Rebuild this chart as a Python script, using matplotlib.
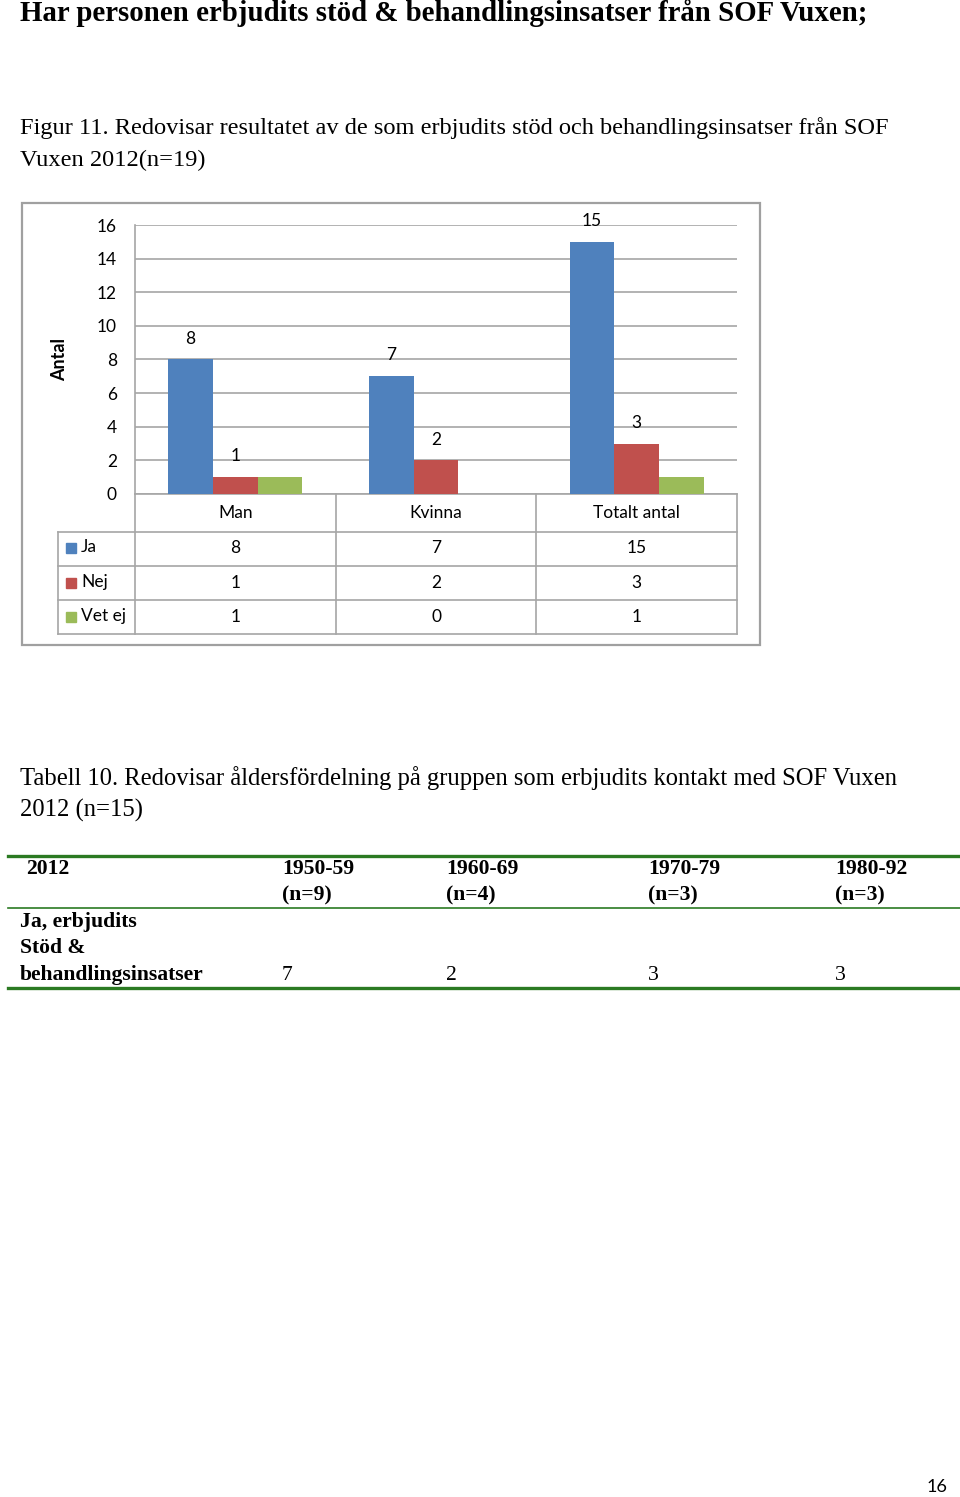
import matplotlib.pyplot as plt
import numpy as np
from matplotlib.transforms import blended_transform_factory
from matplotlib.lines import Line2D
from matplotlib.patches import Rectangle

# data
categories = ['Man', 'Kvinna', 'Totalt antal']
series = ['Ja', 'Nej', 'Vet ej']
ja = [8, 7, 15]
nej = [1, 2, 3]
vet_ej = [1, 0, 1]
colors = ['#4F81BD', '#C0504D', '#9BBB59']

age_groups = ['1950-59', '1960-69', '1970-79', '1980-92']
age_n = ['(n=9)', '(n=4)', '(n=3)', '(n=3)']
age_values = [7, 2, 3, 3]

W, H = 960, 1497
fig = plt.figure(figsize=(9.6, 14.97), dpi=100)

def fx(x):
    return x / W

def fy(y):
    return 1 - y / H

serif = 'Liberation Serif'
sans = 'Lato'
grid_c = '#a6a6a6'

# page texts
fig.text(fx(20), fy(13), 'Har personen erbjudits stöd & behandlingsinsatser från SOF Vuxen;',
         family=serif, weight='bold', fontsize=20.8, va='center')
fig.text(fx(20), fy(128), 'Figur 11. Redovisar resultatet av de som erbjudits stöd och behandlingsinsatser från SOF',
         family=serif, fontsize=17.6, va='center')
fig.text(fx(20), fy(160), 'Vuxen 2012(n=19)', family=serif, fontsize=17.6, va='center')

# chart
ax = fig.add_axes([fx(135), fy(494), fx(737) - fx(135), fy(225) - fy(494)])
x = np.arange(len(categories))
w = 0.223
vals = [ja, nej, vet_ej]
for k in range(3):
    ax.bar(x + (k - 1) * w, vals[k], w, color=colors[k], zorder=3)
for k in range(2):
    for i, v in enumerate(vals[k]):
        ax.annotate(str(v), (x[i] + (k - 1) * w, v), xytext=(0, 15), textcoords='offset points',
                    ha='center', va='center', family=sans, fontsize=12.5)
ax.set_xlim(-0.5, 2.5)
ax.set_ylim(0, 16)
ax.set_yticks(range(0, 17, 2))
ax.set_xticks([])
ax.tick_params(axis='y', length=0, pad=13, labelsize=12.5)
for lab in ax.get_yticklabels():
    lab.set_family(sans)
ax.grid(axis='y', color=grid_c, lw=1.2, zorder=0)
for s in ['top', 'right']:
    ax.spines[s].set_visible(False)
ax.spines['left'].set_color(grid_c)
ax.spines['bottom'].set_color(grid_c)
ax.spines['left'].set_linewidth(1.2)
ax.spines['bottom'].set_linewidth(1.2)
ax.set_ylabel('Antal', family=sans, weight='bold', fontsize=13)
ax.yaxis.set_label_coords(-0.111, 0.5)

# data table under the chart
tr = blended_transform_factory(ax.transData, fig.transFigure)
for i, c in enumerate(categories):
    ax.text(i, fy(513), c, transform=tr, ha='center', va='center', family=sans, fontsize=12.5)
row_y = [548, 583, 617]
for r in range(3):
    for i in range(3):
        ax.text(i, fy(row_y[r]), str(vals[r][i]), transform=tr, ha='center', va='center',
                family=sans, fontsize=12.5)
    fig.add_artist(Rectangle((fx(66), fy(row_y[r] + 5)), fx(10), 10 / H, color=colors[r]))
    fig.text(fx(81), fy(row_y[r] - 1), series[r], va='center', family=sans, fontsize=12.5)
for b in [-0.5, 0.5, 1.5, 2.5]:
    ax.add_line(Line2D([b, b], [fy(494), fy(634)], transform=tr, color=grid_c, lw=1.2, clip_on=False))
for yy in [532, 566, 600, 634]:
    fig.add_artist(Line2D([fx(58), fx(737)], [fy(yy), fy(yy)], color=grid_c, lw=1.2))
fig.add_artist(Line2D([fx(58), fx(58)], [fy(532), fy(634)], color=grid_c, lw=1.2))
fig.add_artist(Rectangle((fx(22), fy(645)), fx(760 - 22), (645 - 203) / H, fill=False,
                         edgecolor='#a0a0a0', lw=1.6))

# table 10
fig.text(fx(20), fy(778), 'Tabell 10. Redovisar åldersfördelning på gruppen som erbjudits kontakt med SOF Vuxen',
         family=serif, fontsize=17.7, va='center')
fig.text(fx(20), fy(810), '2012 (n=15)', family=serif, fontsize=17.7, va='center')

green = '#2b7a22'
fig.add_artist(Line2D([fx(8), fx(960)], [fy(856)] * 2, color=green, lw=2.4))
fig.add_artist(Line2D([fx(8), fx(960)], [fy(908)] * 2, color=green, lw=1.2))
fig.add_artist(Line2D([fx(8), fx(960)], [fy(988)] * 2, color=green, lw=2.4))

col_x = [282, 446, 648, 835]
fs = 15.6
fig.text(fx(26), fy(869), '2012', family=serif, weight='bold', fontsize=fs, va='center')
for i in range(4):
    fig.text(fx(col_x[i]), fy(869), age_groups[i], family=serif, weight='bold', fontsize=fs, va='center')
    fig.text(fx(col_x[i]), fy(895), age_n[i], family=serif, weight='bold', fontsize=fs, va='center')
    fig.text(fx(col_x[i]), fy(975), str(age_values[i]), family=serif, fontsize=fs, va='center')
fig.text(fx(20), fy(922), 'Ja, erbjudits', family=serif, weight='bold', fontsize=fs, va='center')
fig.text(fx(20), fy(948), 'Stöd &', family=serif, weight='bold', fontsize=fs, va='center')
fig.text(fx(20), fy(975), 'behandlingsinsatser', family=serif, weight='bold', fontsize=fs, va='center')

fig.text(fx(937), fy(1487), '16', family=sans, fontsize=13, ha='center', va='center')

fig.savefig('out.png', dpi=100)
